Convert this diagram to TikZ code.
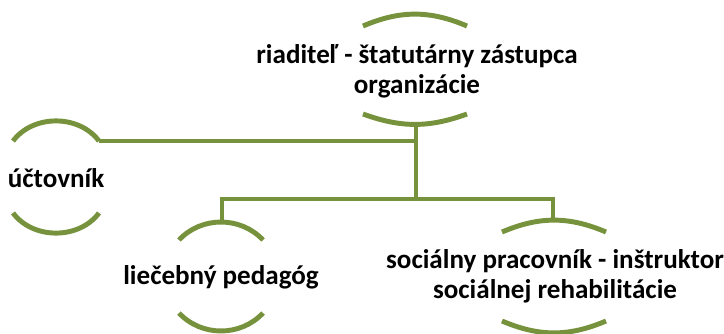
\documentclass[tikz,border=0pt]{standalone}
\usepackage{fontspec}
\setmainfont{Carlito}
\usetikzlibrary{positioning}
\definecolor{olivearc}{RGB}{118,146,60}
\tikzset{
  arcline/.style={draw=olivearc, line width=3.7pt},
  conline/.style={draw=olivearc, line width=3.5pt},
  post/.style={font=\bfseries\fontsize{20.3}{22.5}\selectfont, align=center, inner sep=0.75pt}
}

\begin{document}
\begin{tikzpicture}[x=0.75pt,y=0.75pt,yscale=-1,xscale=1]
\path[use as bounding box] (0,0) rectangle (724,333);

% Text Nodes
\node[post] (riaditel) at (417,71) {riaditeľ - štatutárny zástupca\\organizácie};
\node[post] (uctovnik) at (56,178) {účtovník};
\node[post] (pedagog) at (221,277) {liečebný pedagóg};
\node[post] (pracovnik) at (555,276) {sociálny pracovník - inštruktor\\sociálnej rehabilitácie};

% arc ends
\coordinate (ria-tl) at (363,26);
\coordinate (ria-tr) at (467,26);
\coordinate (ria-bl) at (363,114);
\coordinate (ria-br) at (467,114);
\coordinate (uct-tl) at (13,141);
\coordinate (uct-tr) at (99,141);
\coordinate (uct-bl) at (13,213);
\coordinate (uct-br) at (99,213);
\coordinate (ped-tl) at (179,240);
\coordinate (ped-tr) at (263,240);
\coordinate (ped-bl) at (179,313);
\coordinate (ped-br) at (263,313);
\coordinate (pra-tl) at (502,232);
\coordinate (pra-tr) at (606,232);
\coordinate (pra-bl) at (502,321);
\coordinate (pra-br) at (606,321);

% Arcs
\draw[arcline] (ria-tl) to[bend right=23] (ria-tr);
\draw[arcline] (ria-bl) to[bend left=20] (ria-br);
\draw[arcline] (uct-tl) to[bend right=53] (uct-tr);
\draw[arcline] (uct-bl) to[bend left=53] (uct-br);
\draw[arcline] (ped-tl) to[bend right=47] (ped-tr);
\draw[arcline] (ped-bl) to[bend left=47] (ped-br);
\draw[arcline] (pra-tl) to[bend right=23] (pra-tr);
\draw[arcline] (pra-bl) to[bend left=23] (pra-br);

% Connectors
\coordinate (ria-b) at (416,123);
\coordinate (ria-j) at (416,141);
\coordinate (bus) at (416,199);
\coordinate (ped-t) at (222,222);
\coordinate (pra-t) at (553,220);
\draw[conline] (ria-b) -- (ria-j) -- (uct-tr);
\draw[conline] (ria-j) -- (bus);
\draw[conline] (ped-t) |- (bus) -| (pra-t);

\end{tikzpicture}
\end{document}
